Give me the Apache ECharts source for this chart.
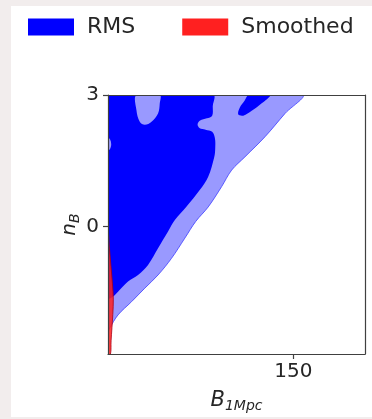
<!DOCTYPE html>
<html>
<head>
<meta charset="utf-8">
<script src="https://cdn.jsdelivr.net/npm/echarts@6/dist/echarts.min.js"></script>
<style>
  html, body { margin: 0; padding: 0; background: #f2eded; }
  #chart { width: 372px; height: 419px; }
</style>
</head>
<body>
<div id="chart"></div>
<script>
// Axis ranges and tick labels
const xRange = [0, 208];
const yRange = [-2.9, 3];
const xTicks = [150];
const yTicks = [0, 3];

// RMS contour regions, vertices as [B_1Mpc, n_B]
// outer (lighter) confidence level
const rmsOuter = [[0,3],[0,-2.39],[1.4,-2.31],[8.1,-2.01],[19,-1.71],[29.8,-1.4],[40.5,-1.1],
  [51.4,-0.72],[62.2,-0.26],[71,0.12],[81.1,0.45],[91.9,0.91],[100.1,1.29],[110.8,1.59],
  [127.1,2.05],[143.3,2.58],[156.8,3]];
// inner (darker) confidence level
const rmsInner = [[0,3],[85.1,3],[84.8,2.75],[84.3,2.53],[80,2.47],[74.5,2.42],[72.5,2.33],
  [74,2.25],[79,2.21],[84.3,2.16],[86.5,2.02],[86.8,1.8],[86,1.59],[81.1,1.14],[74.4,0.84],
  [63.6,0.46],[54.1,0.15],[48.6,-0.11],[40.5,-0.49],[32.4,-0.87],[24.3,-1.1],[16.2,-1.25],
  [8.1,-1.48],[4.1,-1.59],[0,-1.63]];
// gaps in the inner level
const rmsHoleTop = [[23,3],[23,2.66],[25.7,2.39],[29.8,2.32],[35.2,2.39],[40.5,2.58],[41.9,2.81],[41.9,3]];
const rmsHoleLeft = [[0,2.03],[1.6,1.99],[2.6,1.88],[1.6,1.77],[0,1.74]];
// detached inner island
const rmsIsland = [[105.4,2.56],[106.8,2.72],[110.5,2.87],[114,3],[131.1,3],[124.4,2.81],[116.3,2.64],[109.5,2.53]];

// Smoothed contour, vertices as [B_1Mpc, n_B]
const smoothedRegion = [[0,-0.03],[1.2,-0.5],[2.4,-0.9],[3.6,-1.3],[4.3,-1.65],[3.9,-2.0],[3.2,-2.3],
  [2.5,-2.6],[2,-2.9],[0,-2.9]];

const LIGHT = '#9999ff';
const DARK = '#0000ff';

const rmsRegions = [rmsOuter, rmsInner, rmsHoleTop, rmsHoleLeft, rmsIsland];
const rmsFills = [LIGHT, DARK, LIGHT, LIGHT, DARK];
const rmsStrokes = ['rgba(70,70,255,0.85)', null, null, null, null];

const FONT = 'DejaVu Sans';
const TEXT = '#262626';
const AXIS = '#404040';

function polygonRenderer(regions, fills, strokes) {
  return function (params, api) {
    const poly = regions[params.dataIndex];
    const pts = poly.map(p => api.coord(p));
    const stroke = strokes[params.dataIndex];
    return {
      type: 'polygon',
      shape: { points: pts, smooth: 0.35 },
      style: {
        fill: fills[params.dataIndex],
        stroke: stroke || null,
        lineWidth: stroke ? 1 : 0
      }
    };
  };
}

function frameAxis(position, range) {
  return {
    type: 'value', min: range[0], max: range[1], position: position, z: 10,
    axisLine: { show: true, onZero: false, lineStyle: { color: AXIS, width: 1.2 } },
    axisTick: { show: false }, axisLabel: { show: false }, splitLine: { show: false }
  };
}

const chart = echarts.init(document.getElementById('chart'), null, { renderer: 'canvas' });

chart.setOption({
  backgroundColor: '#f2eded',
  animation: false,
  textStyle: { fontFamily: FONT },
  graphic: [{
    type: 'rect', left: 11, top: 6, silent: true, z: -10,
    shape: { width: 361, height: 411 },
    style: { fill: '#ffffff' }
  }],
  legend: {
    left: 23, top: 11,
    icon: 'rect',
    itemWidth: 46, itemHeight: 17, itemGap: 47,
    textStyle: { fontFamily: FONT, fontSize: 22, color: TEXT, lineHeight: 22, padding: [0, 0, 0, 8] },
    data: ['RMS', 'Smoothed']
  },
  grid: { left: 108, top: 95, right: 7, bottom: 65 },
  xAxis: [{
    type: 'value', min: xRange[0], max: xRange[1], position: 'bottom', z: 10,
    axisLine: { show: true, onZero: false, lineStyle: { color: AXIS, width: 1.2 } },
    axisTick: { show: true, customValues: xTicks, length: 5, lineStyle: { color: AXIS, width: 1.2 } },
    axisLabel: { customValues: xTicks, fontFamily: FONT, fontSize: 20, color: TEXT, margin: 8 },
    splitLine: { show: false },
    name: '{b|B}{s|1Mpc}',
    nameLocation: 'middle', nameGap: 35, nameMoveOverlap: false,
    nameTextStyle: {
      rich: {
        b: { fontFamily: FONT, fontStyle: 'italic', fontSize: 21, color: TEXT },
        s: { fontFamily: FONT, fontStyle: 'italic', fontSize: 14, color: TEXT, padding: [10, 0, 0, 0] }
      }
    }
  }, frameAxis('top', xRange)],
  yAxis: [{
    type: 'value', min: yRange[0], max: yRange[1], position: 'left', z: 10,
    axisLine: { show: true, onZero: false, lineStyle: { color: AXIS, width: 1.2 } },
    axisTick: { show: true, customValues: yTicks, length: 5, lineStyle: { color: AXIS, width: 1.2 } },
    axisLabel: { customValues: yTicks, fontFamily: FONT, fontSize: 20, color: TEXT, margin: 9 },
    splitLine: { show: false },
    name: '{n|n}{s|B}',
    nameLocation: 'middle', nameGap: 26, nameRotate: 90, nameMoveOverlap: false,
    nameTextStyle: {
      rich: {
        n: { fontFamily: FONT, fontStyle: 'italic', fontSize: 20, color: TEXT },
        s: { fontFamily: FONT, fontStyle: 'italic', fontSize: 14, color: TEXT, padding: [10, 0, 0, 0] }
      }
    }
  }, frameAxis('right', yRange)],
  series: [{
    name: 'RMS',
    type: 'custom',
    xAxisIndex: 0, yAxisIndex: 0,
    clip: true, silent: true, z: 2,
    itemStyle: { color: DARK },
    renderItem: polygonRenderer(rmsRegions, rmsFills, rmsStrokes),
    encode: { x: 0, y: 1 },
    data: rmsRegions.map(poly => poly[0])
  }, {
    name: 'Smoothed',
    type: 'custom',
    xAxisIndex: 0, yAxisIndex: 0,
    clip: true, silent: true, z: 3,
    itemStyle: { color: '#ff2020' },
    renderItem: polygonRenderer([smoothedRegion], ['rgba(255,32,32,0.85)'], ['rgba(170,0,20,0.8)']),
    encode: { x: 0, y: 1 },
    data: [smoothedRegion[0]]
  }]
});
</script>
</body>
</html>
